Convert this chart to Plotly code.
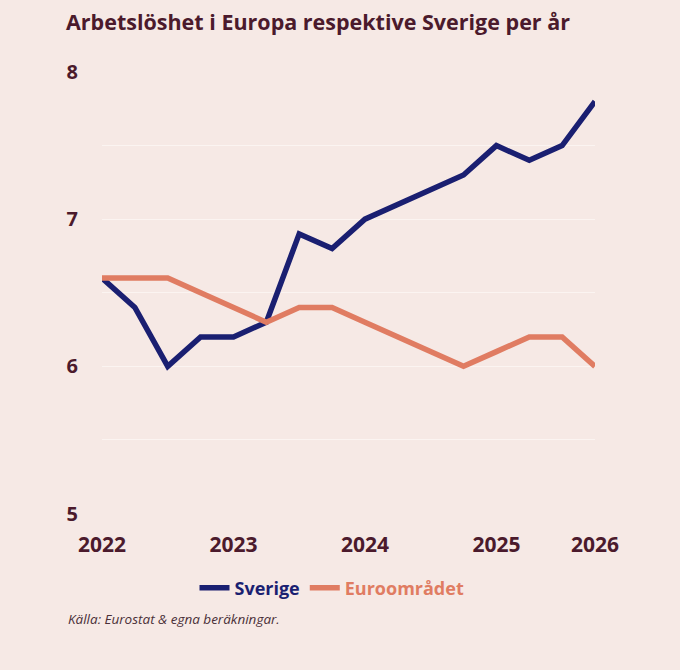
import plotly.graph_objects as go

# Quarterly unemployment (%), 2022 Q1 .. 2025 Q4
QUARTERS = list(range(16))
SVERIGE = [6.6, 6.4, 6.0, 6.2, 6.2, 6.3, 6.9, 6.8, 7.0, 7.1, 7.2, 7.3, 7.5, 7.4, 7.5, 7.8]
EURO = [6.6, 6.6, 6.6, 6.5, 6.4, 6.3, 6.4, 6.4, 6.3, 6.2, 6.1, 6.0, 6.1, 6.2, 6.2, 6.0]
YEAR_LABELS = ["2022", "2023", "2024", "2025", "2026"]
YEAR_TICKS = [0, 4, 8, 12, 15]

BG = "#f6e9e5"
MAROON = "#4b1a2c"
NAVY = "#1a1f71"
SALMON = "#e07c62"
FONT = "Open Sans"

fig = go.Figure()

fig.add_trace(go.Scatter(
    x=QUARTERS, y=SVERIGE, mode="lines",
    name=f"<span style='color:{NAVY}'>Sverige</span>",
    line=dict(color=NAVY, width=5.5),
))
fig.add_trace(go.Scatter(
    x=QUARTERS, y=EURO, mode="lines",
    name=f"<span style='color:{SALMON}'>Euroområdet</span>",
    line=dict(color=SALMON, width=5.5),
))

# source line, placed relative to the plot area (l=102, w=493, b=516, h=444)
fig.add_annotation(
    text="<i>Källa: Eurostat & egna beräkningar.</i>",
    xref="paper", yref="paper", x=(66 - 102) / 493, y=-(622 - 516) / 444,
    xanchor="left", yanchor="middle",
    showarrow=False,
    font=dict(family=FONT, size=13.5, color="#4a3038"),
)

fig.update_layout(
    width=680, height=670,
    paper_bgcolor=BG, plot_bgcolor=BG,
    margin=dict(l=102, r=85, t=72, b=154),
    title=dict(
        text="<b>Arbetslöshet i Europa respektive Sverige per år</b>",
        xref="container", yref="container",
        x=66 / 680, y=1 - 22 / 670, xanchor="left", yanchor="middle",
        font=dict(family=FONT, size=21.5, color=MAROON),
    ),
    xaxis=dict(
        range=[0, 15], tickvals=YEAR_TICKS, ticktext=YEAR_LABELS,
        showgrid=False, zeroline=False, showline=False,
        ticklabelstandoff=16,
        tickfont=dict(family=FONT, size=21, color=MAROON, weight="bold"),
    ),
    yaxis=dict(
        range=[5, 8], dtick=1, tick0=5,
        showgrid=True, gridcolor="#fbf4f1", gridwidth=1,
        minor=dict(dtick=0.5, showgrid=True, gridcolor="#fbf4f1", gridwidth=1),
        zeroline=False, showline=False,
        ticklabelstandoff=23,
        tickfont=dict(family=FONT, size=20, color=MAROON, weight="bold"),
    ),
    legend=dict(
        orientation="h",
        xref="container", yref="container",
        x=332 / 680, y=1 - 588 / 670, xanchor="center", yanchor="middle",
        font=dict(family=FONT, size=18, weight="bold"),
        itemwidth=30, bgcolor="rgba(0,0,0,0)",
    ),
    showlegend=True,
)

fig.write_html(
    "out.html",
    config={"displayModeBar": False},
    post_script="document.body.style.margin='0';",
)
